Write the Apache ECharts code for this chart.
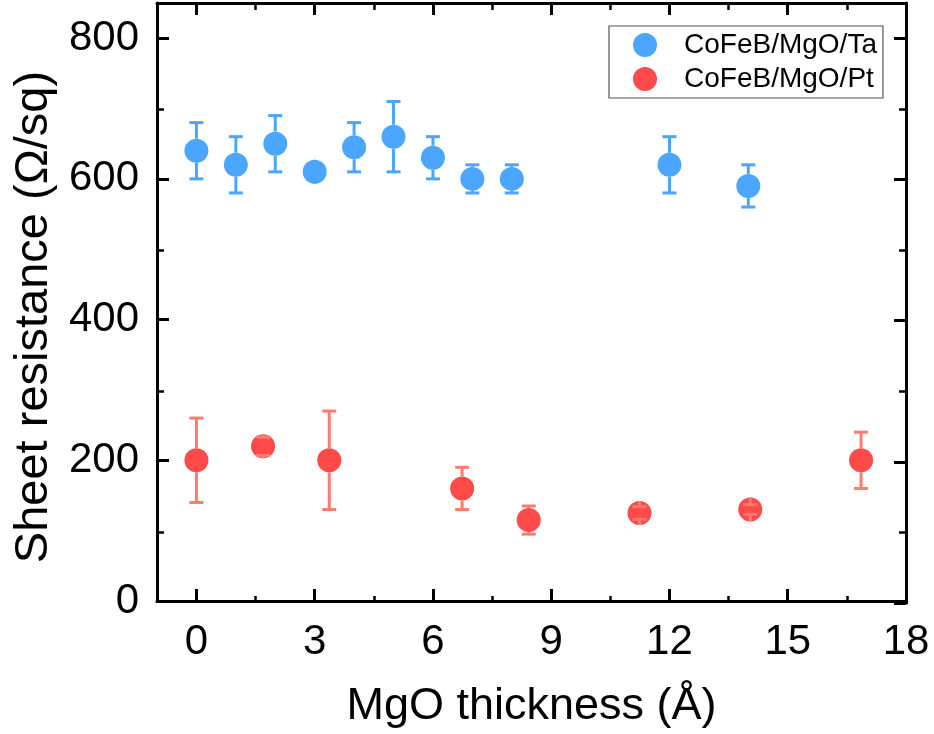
<!DOCTYPE html>
<html>
<head>
<meta charset="utf-8">
<script src="https://cdn.jsdelivr.net/npm/echarts@6/dist/echarts.min.js"></script>
<style>
  html, body { margin: 0; padding: 0; background: #fff; }
  #chart { width: 934px; height: 734px; }
</style>
</head>
<body>
<div id="chart"></div>
<script>
// MgO thickness (Å) and sheet resistance (Ω/sq) with symmetric errors
const taThickness = [0, 1, 2, 3, 4, 5, 6, 7, 8, 12, 14];
const taResistance = [640, 620, 650, 610, 645, 660, 630, 600, 600, 620, 590];
const taError = [40, 40, 40, 8, 35, 50, 30, 20, 20, 40, 30];

const ptThickness = [0, 1.69, 3.37, 6.74, 8.43, 11.24, 14.05, 16.86];
const ptResistance = [200, 220, 200, 160, 115, 125, 130, 200];
const ptError = [60, 13, 70, 30, 20, 9, 7, 40];

const xMajorTicks = [0, 3, 6, 9, 12, 15, 18];
const xMinorTicks = [1.5, 4.5, 7.5, 10.5, 13.5, 16.5];
const yMajorTicks = [0, 200, 400, 600, 800];
const yMinorTicks = [100, 300, 500, 700];

const seriesNames = ['CoFeB/MgO/Ta', 'CoFeB/MgO/Pt'];

const FONT = '"Liberation Sans", Arial, Helvetica, sans-serif';
const BLUE = '#4aa6ff';
const RED = '#ff4a4a';
const RED_BAR = '#ff7b70';
const MARKER = 24;

const X_MIN = -1, X_MAX = 18, Y_MIN = 0, Y_MAX = 850;
const gridRect = { left: 157, right: 28, top: 3, bottom: 131 };

function zip3(a, b, c) { return a.map((v, i) => [v, b[i], c[i]]); }

// Error bar: stem from marker edge out to the cap, cap drawn at value ± error
function errorBarRenderer(color) {
  return function (params, api) {
    const x = api.value(0), y = api.value(1), e = api.value(2);
    const c = api.coord([x, y]);
    const hi = api.coord([x, y + e]);
    const lo = api.coord([x, y - e]);
    const r = MARKER / 2;
    const cap = 7;
    const style = { stroke: color, lineWidth: 3 };
    return {
      type: 'group',
      children: [
        { type: 'line', shape: { x1: c[0], y1: c[1] - r, x2: hi[0], y2: hi[1] }, style },
        { type: 'line', shape: { x1: c[0], y1: c[1] + r, x2: lo[0], y2: lo[1] }, style },
        { type: 'line', shape: { x1: hi[0] - cap, y1: hi[1], x2: hi[0] + cap, y2: hi[1] }, style },
        { type: 'line', shape: { x1: lo[0] - cap, y1: lo[1], x2: lo[0] + cap, y2: lo[1] }, style }
      ]
    };
  };
}

const axisLineStyle = { color: '#000', width: 3 };

function xAxisFor(gridIndex, position, ticks, tickLen, showLine, showLabel) {
  return {
    type: 'value', gridIndex, position, min: X_MIN, max: X_MAX,
    axisLine: { show: showLine, onZero: false, lineStyle: axisLineStyle },
    axisTick: { show: true, inside: true, length: tickLen, customValues: ticks,
                lineStyle: { color: '#000', width: tickLen > 10 ? 3 : 2.5 } },
    axisLabel: showLabel
      ? { show: true, customValues: ticks, fontSize: 42, color: '#000', fontFamily: FONT, margin: 20 }
      : { show: false },
    splitLine: { show: false }
  };
}

function yAxisFor(gridIndex, position, ticks, tickLen, showLine, showLabel) {
  return {
    type: 'value', gridIndex, position, min: Y_MIN, max: Y_MAX,
    axisLine: { show: showLine, onZero: false, lineStyle: axisLineStyle },
    axisTick: { show: true, inside: true, length: tickLen, customValues: ticks,
                lineStyle: { color: '#000', width: tickLen > 10 ? 3 : 2.5 } },
    axisLabel: showLabel
      ? { show: true, customValues: ticks, fontSize: 42, color: '#000', fontFamily: FONT, margin: 18 }
      : { show: false },
    splitLine: { show: false }
  };
}

const xAxes = [
  xAxisFor(0, 'bottom', xMajorTicks, 12, true, true),
  xAxisFor(1, 'bottom', xMinorTicks, 7, false, false),
  xAxisFor(2, 'top', xMajorTicks, 12, true, false),
  xAxisFor(3, 'top', xMinorTicks, 7, false, false)
];
Object.assign(xAxes[0], {
  name: 'MgO thickness (Å)', nameLocation: 'middle', nameGap: 83,
  nameTextStyle: { fontSize: 45, color: '#000', fontFamily: FONT }
});

const yAxes = [
  yAxisFor(0, 'left', yMajorTicks, 12, true, true),
  yAxisFor(1, 'left', yMinorTicks, 7, false, false),
  yAxisFor(2, 'right', yMajorTicks, 12, true, false),
  yAxisFor(3, 'right', yMinorTicks, 7, false, false)
];
Object.assign(yAxes[0], {
  name: 'Sheet resistance (Ω/sq)', nameLocation: 'middle', nameGap: 99, nameRotate: 90,
  nameTextStyle: { fontSize: 47, color: '#000', fontFamily: FONT, padding: [0, 30, 0, 0] }
});

const chart = echarts.init(document.getElementById('chart'), null, { renderer: 'canvas' });

chart.setOption({
  animation: false,
  backgroundColor: '#fff',
  textStyle: { fontFamily: FONT },
  grid: [0, 1, 2, 3].map(() => Object.assign({ containLabel: false }, gridRect)),
  xAxis: xAxes,
  yAxis: yAxes,
  legend: {
    left: 609, top: 26,
    orient: 'vertical',
    data: seriesNames,
    icon: 'circle',
    itemWidth: 68, itemHeight: 24, itemGap: 4,
    padding: [4, 6, 4, 24],
    borderColor: '#555', borderWidth: 1.2, borderRadius: 0,
    backgroundColor: '#fff',
    textStyle: { fontSize: 28, color: '#000', fontFamily: FONT, lineHeight: 30 }
  },
  series: [
    {
      name: seriesNames[0], type: 'scatter', xAxisIndex: 0, yAxisIndex: 0,
      symbol: 'circle', symbolSize: MARKER,
      itemStyle: { color: BLUE, opacity: 1 },
      data: taThickness.map((x, i) => [x, taResistance[i]]), z: 3
    },
    {
      name: seriesNames[1], type: 'scatter', xAxisIndex: 0, yAxisIndex: 0,
      symbol: 'circle', symbolSize: MARKER,
      itemStyle: { color: RED, opacity: 1 },
      data: ptThickness.map((x, i) => [x, ptResistance[i]]), z: 3
    },
    {
      name: 'taErr', type: 'custom', xAxisIndex: 0, yAxisIndex: 0,
      renderItem: errorBarRenderer(BLUE),
      data: zip3(taThickness, taResistance, taError), z: 4, silent: true
    },
    {
      name: 'ptErr', type: 'custom', xAxisIndex: 0, yAxisIndex: 0,
      renderItem: errorBarRenderer(RED_BAR),
      data: zip3(ptThickness, ptResistance, ptError), z: 4, silent: true
    }
  ]
});
</script>
</body>
</html>
